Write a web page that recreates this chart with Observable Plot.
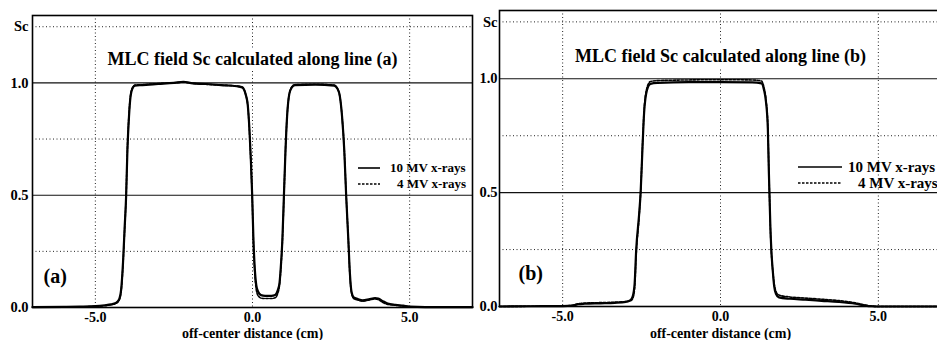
<!DOCTYPE html>
<html>
<head>
<meta charset="utf-8">
<script src="https://cdn.jsdelivr.net/npm/d3@7"></script>
<script src="https://cdn.jsdelivr.net/npm/@observablehq/plot@0.6"></script>
<style>
  html, body { margin: 0; padding: 0; background: white; overflow: hidden; }
  #wrap { width: 937px; height: 340px; overflow: hidden; display: flex; flex-wrap: nowrap; }
  #wrap > svg { flex: none; }
</style>
</head>
<body>
<div id="wrap"></div>
<script>
// ---------- data ----------
const xTicks = [-5, 0, 5];
const xTickLabels = ["-5.0", "0.0", "5.0"];
const yTicks = [0, 0.5, 1.0, 1.25];
const yTickLabels = ["0.0", "0.5", "1.0", "Sc"];
const yDottedGrid = [0.25, 0.75, 1.25];
const ySolidGrid = [0.5, 1.0];
const xLabel = "off-center distance (cm)";
const legendLabels = ["10 MV x-rays", "4 MV x-rays"];
const titles = ["MLC field Sc calculated along line (a)", "MLC field Sc calculated along line (b)"];
const tags = ["(a)", "(b)"];

// panel (a): off-center distance (cm) and Sc
const xA = [-7.0, -6.0, -5.5, -5.0, -4.7, -4.5, -4.35, -4.25, -4.18, -4.12,
  -4.07, -4.02, -3.98, -3.93, -3.88, -3.82, -3.74, -3.5, -3.0, -2.5,
  -2.2, -1.9, -1.5, -1.0, -0.5, -0.33, -0.22, -0.15, -0.1, -0.05,
  -0.01, 0.03, 0.07, 0.12, 0.18, 0.27, 0.4, 0.6, 0.72, 0.8,
  0.86, 0.91, 0.95, 1.0, 1.05, 1.1, 1.17, 1.25, 1.35, 2.0,
  2.6, 2.7, 2.78, 2.85, 2.92, 2.98, 3.05, 3.1, 3.15, 3.22,
  3.35, 3.5, 3.7, 3.9, 4.0, 4.15, 4.3, 4.55, 4.8, 5.0,
  5.5, 6.0, 7.0];
const a10 = [0.002, 0.003, 0.004, 0.006, 0.01, 0.014, 0.02, 0.035, 0.08, 0.2,
  0.35, 0.5, 0.7, 0.85, 0.94, 0.975, 0.988, 0.99, 0.995, 1.0,
  1.005, 0.998, 0.995, 0.99, 0.985, 0.98, 0.95, 0.9, 0.8, 0.65,
  0.5, 0.3, 0.18, 0.1, 0.07, 0.055, 0.052, 0.052, 0.056, 0.075,
  0.11, 0.2, 0.3, 0.5, 0.7, 0.85, 0.95, 0.98, 0.99, 0.992,
  0.988, 0.975, 0.94, 0.85, 0.7, 0.5, 0.3, 0.15, 0.07, 0.045,
  0.038, 0.032, 0.036, 0.042, 0.04, 0.028, 0.018, 0.012, 0.008, 0.004,
  0.002, 0.002, 0.002];
const a4 = [0.001, 0.002, 0.003, 0.005, 0.008, 0.012, 0.018, 0.03, 0.07, 0.19,
  0.34, 0.5, 0.71, 0.86, 0.945, 0.978, 0.99, 0.992, 0.997, 1.0,
  1.003, 0.998, 0.994, 0.99, 0.986, 0.982, 0.95, 0.9, 0.79, 0.64,
  0.49, 0.29, 0.16, 0.08, 0.052, 0.042, 0.04, 0.04, 0.043, 0.062,
  0.1, 0.19, 0.29, 0.49, 0.7, 0.85, 0.95, 0.982, 0.992, 0.994,
  0.99, 0.976, 0.94, 0.85, 0.7, 0.5, 0.3, 0.14, 0.065, 0.04,
  0.033, 0.028, 0.033, 0.038, 0.035, 0.022, 0.014, 0.01, 0.006, 0.003,
  0.001, 0.001, 0.001];

// panel (b)
const xB = [-7, -6, -5, -4.7, -4.5, -4.3, -3.8, -3.35, -3.0, -2.85,
  -2.78, -2.72, -2.67, -2.58, -2.53, -2.47, -2.42, -2.33, -2.22, -2.0,
  -1.0, 0, 1.0, 1.3, 1.38, 1.44, 1.5, 1.53, 1.55, 1.58,
  1.61, 1.66, 1.7, 1.76, 1.85, 2.2, 2.69, 3.2, 3.74, 4.27,
  4.59, 4.8, 5, 7];
const b10 = [0.0, 0.001, 0.002, 0.004, 0.01, 0.012, 0.014, 0.016, 0.02, 0.028,
  0.045, 0.1, 0.25, 0.4, 0.5, 0.7, 0.85, 0.95, 0.978, 0.982,
  0.985, 0.985, 0.984, 0.98, 0.95, 0.9, 0.78, 0.6, 0.5, 0.35,
  0.25, 0.15, 0.09, 0.055, 0.04, 0.034, 0.03, 0.025, 0.02, 0.012,
  0.004, 0.001, 0.0, 0.0];
const b4 = [0.0, 0.001, 0.002, 0.005, 0.012, 0.015, 0.017, 0.019, 0.022, 0.025,
  0.035, 0.08, 0.23, 0.39, 0.5, 0.71, 0.86, 0.96, 0.988, 0.992,
  0.995, 0.996, 0.995, 0.99, 0.96, 0.91, 0.79, 0.61, 0.5, 0.34,
  0.24, 0.15, 0.1, 0.065, 0.05, 0.042, 0.037, 0.032, 0.026, 0.016,
  0.006, 0.002, 0.0, 0.0];

// ---------- drawing ----------
const FONT = "'Liberation Serif', 'Times New Roman', serif";
const rows = (xs, ys) => xs.map((x, i) => ({x, y: ys[i]}));

function legendMark(cfg) {
  return (index, scales, values, dimensions) => {
    const right = dimensions.width - dimensions.marginRight;
    const g = d3.create("svg:g");
    legendLabels.forEach((lab, i) => {
      const y = dimensions.marginTop + cfg.rows[i];
      g.append("line")
        .attr("x1", right - cfg.s0).attr("x2", right - cfg.s1)
        .attr("y1", y).attr("y2", y)
        .attr("stroke", "black")
        .attr("stroke-width", i === 0 ? 1.6 : 1.4)
        .attr("stroke-dasharray", i === 0 ? null : "2.5,1.5");
      g.append("text")
        .attr("x", right - cfg.t[i]).attr("y", y).attr("dy", "0.33em")
        .attr("text-anchor", "start")
        .attr("font-family", FONT).attr("font-weight", "bold")
        .attr("font-size", cfg.fontSize).attr("fill", "black")
        .text(lab);
    });
    return g.node();
  };
}

function panel(p) {
  return Plot.plot({
    width: p.width, height: 340,
    marginLeft: p.ml, marginRight: p.mr, marginTop: p.mt, marginBottom: p.mb,
    x: {domain: [-7, 7]},
    y: {domain: [0, 1.3]},
    style: {fontFamily: FONT, fontWeight: "bold", fontSize: "14px", color: "black", background: "white", overflow: "visible"},
    marks: [
      Plot.ruleX(xTicks, {stroke: "#222", strokeWidth: 1, strokeDasharray: "1,2.5"}),
      Plot.ruleY(yDottedGrid, {stroke: "#222", strokeWidth: 1, strokeDasharray: "1,2.5"}),
      Plot.ruleY(ySolidGrid, {stroke: "#111", strokeWidth: 1.1}),
      Plot.text([p.title], {frameAnchor: "top", dy: p.titleDy, fontSize: 18, fontWeight: "bold",
        fill: "black", stroke: "white", strokeWidth: 10, paintOrder: "stroke"}),
      Plot.line(rows(p.xs, p.s4), {x: "x", y: "y", stroke: "black", strokeWidth: 1.6, strokeDasharray: "2.5,1.5", curve: "monotone-x"}),
      Plot.line(rows(p.xs, p.s10), {x: "x", y: "y", stroke: "black", strokeWidth: 2.2, curve: "monotone-x"}),
      Plot.text([p.tag], {frameAnchor: "bottom-left", textAnchor: "start", dx: p.tagDx, dy: p.tagDy, fontSize: 20, fontWeight: "bold", fill: "black"}),
      legendMark(p.legend),
      Plot.frame({stroke: "black", strokeWidth: 1.6}),
      Plot.axisX({ticks: xTicks, tickFormat: d => xTickLabels[xTicks.indexOf(d)], tickSize: 0, tickPadding: p.xPad, label: null, fontSize: 14, fontWeight: "bold"}),
      Plot.axisY({ticks: yTicks, tickFormat: d => yTickLabels[yTicks.indexOf(d)], tickSize: 0, tickPadding: p.yPad, label: null, fontSize: 14.5, fontWeight: "bold"}),
      Plot.text([xLabel], {frameAnchor: "bottom", lineAnchor: "bottom", dy: p.labelDy, fontSize: 14, fontWeight: "bold", fill: "black"})
    ]
  });
}

const wrap = document.getElementById("wrap");
wrap.append(panel({
  width: 475, ml: 32, mr: 3, mt: 15, mb: 33,
  xs: xA, s10: a10, s4: a4, title: titles[0], tag: tags[0],
  titleDy: 37, tagDx: 11, tagDy: -25, xPad: 5, yPad: 4, labelDy: 30,
  legend: {rows: [153, 169], s0: 114, s1: 92, t: [82, 75], fontSize: 13}
}));
wrap.append(panel({
  width: 475, ml: 24, mr: 9, mt: 10, mb: 34,
  xs: xB, s10: b10, s4: b4, title: titles[1], tag: tags[1],
  titleDy: 39, tagDx: 19, tagDy: -27, xPad: 5, yPad: 2, labelDy: 31,
  legend: {rows: [157, 173], s0: 143, s1: 99, t: [93, 83], fontSize: 15}
}));
</script>
</body>
</html>
